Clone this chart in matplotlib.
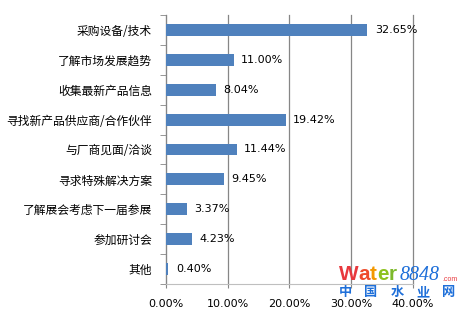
import matplotlib.pyplot as plt
from matplotlib.ticker import FuncFormatter

plt.rcParams['font.family'] = ['Noto Sans CJK SC', 'DejaVu Sans']

categories = ['采购设备/技术', '了解市场发展趋势', '收集最新产品信息',
              '寻找新产品供应商/合作伙伴', '与厂商见面/洽谈', '寻求特殊解决方案',
              '了解展会考虑下一届参展', '参加研讨会', '其他']
values = [32.65, 11.00, 8.04, 19.42, 11.44, 9.45, 3.37, 4.23, 0.40]
xticks = [0, 10, 20, 30, 40]

W, H = 467, 309
fig = plt.figure(figsize=(W / 100, H / 100), dpi=100)
ax = fig.add_axes([166 / W, 1 - 284 / H, (412.7 - 166) / W, (284 - 15) / H])

ypos = list(range(len(categories)))[::-1]
ax.barh(ypos, values, height=0.4, color='#4F81BD', zorder=3)
for y, v in zip(ypos, values):
    ax.text(v + 1.2, y, f'{v:.2f}%', va='center', ha='left', fontsize=8,
            family=['DejaVu Sans'], color='#000000', zorder=4)

ax.set_xlim(0, 40)
ax.set_ylim(-0.5, len(categories) - 0.5)
ax.set_xticks(xticks)
ax.xaxis.set_major_formatter(FuncFormatter(lambda x, p: f'{x:.2f}%'))
ax.set_yticks(ypos)
ax.set_yticklabels(categories, fontsize=8.5)
ax.set_yticks([i - 0.5 for i in range(len(categories) + 1)], minor=True)
ax.tick_params(axis='y', which='major', length=0, pad=10)
ax.tick_params(axis='y', which='minor', length=4, color='#868686', direction='out')
ax.tick_params(axis='x', length=3, color='#868686', pad=8, labelsize=8)
for lbl in ax.get_xticklabels():
    lbl.set_family(['DejaVu Sans'])
ax.grid(axis='x', color='#868686', linewidth=0.9, zorder=0)
for gl in ax.get_xgridlines():
    gl.set_clip_on(False)
for s in ['top', 'right']:
    ax.spines[s].set_visible(False)
ax.spines['left'].set_color('#868686')
ax.spines['bottom'].set_color('#BFBFBF')

# watermark (logo)
logo_px = 20.8
letters = ['W', 'a', 't', 'e', 'r']
widths = [0.944, 0.556, 0.333, 0.556, 0.389]
colors = ['#E8383D', '#EE4B2B', '#F39800', '#8DC21F', '#7DB92A']
x0 = 339
for ch, w, c in zip(letters, widths, colors):
    fig.text(x0 / W, 1 - 280 / H, ch, color=c, fontsize=logo_px * 0.72,
             fontweight='bold', va='baseline', ha='left', family=['Liberation Sans'])
    x0 += w * logo_px
fig.text(400 / W, 1 - 280 / H, '8848', color='#1E6FD9', fontsize=14.4, style='italic',
         va='baseline', ha='left', family=['Liberation Serif'])
fig.text(442 / W, 1 - 281 / H, '.com', color='#E8383D', fontsize=5, va='baseline',
         ha='left', family=['Liberation Sans'])
for i, ch in enumerate('中国水业网'):
    fig.text((345 + i * 26) / W, 1 - 292 / H, ch, color='#1E6FD9', fontsize=9.5,
             fontweight='bold', va='center', ha='center')

fig.savefig('out.png', dpi=100)
